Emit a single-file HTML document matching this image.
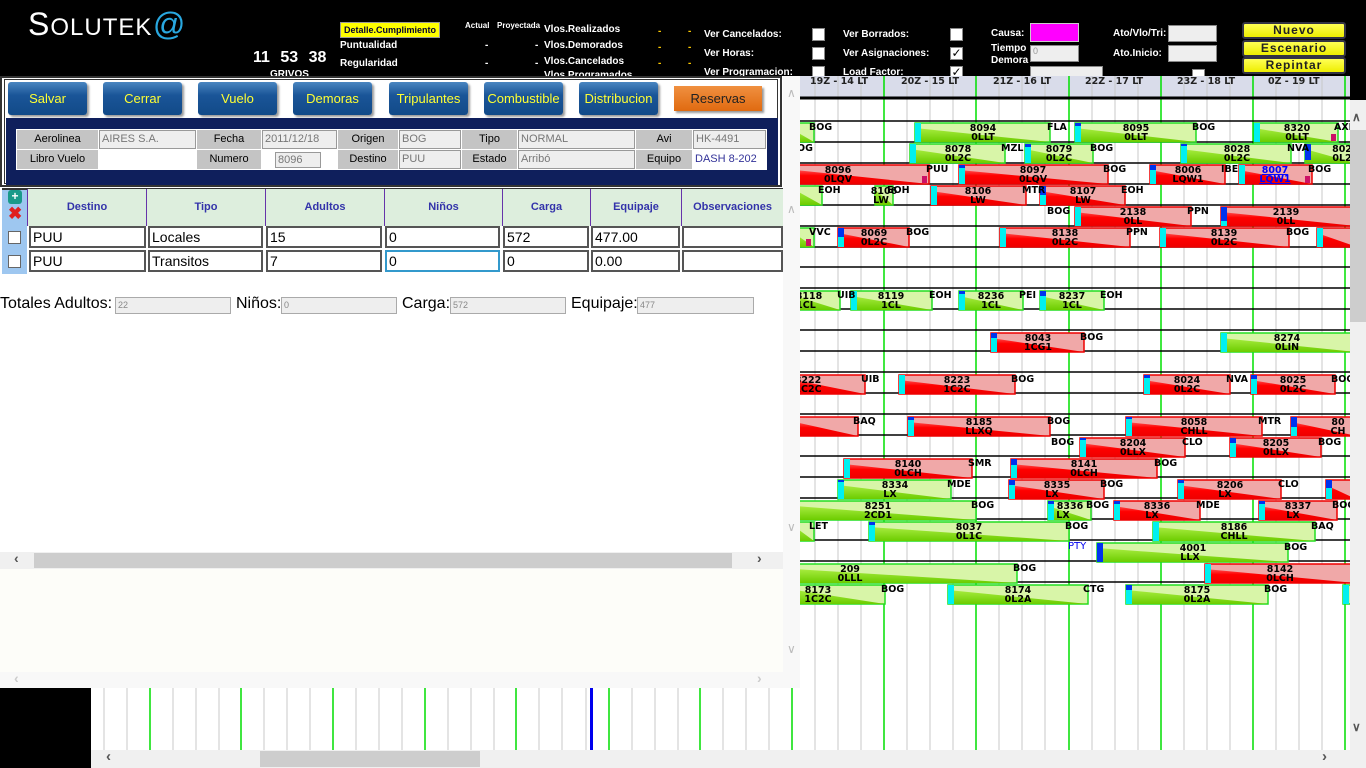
<!DOCTYPE html>
<html><head><meta charset="utf-8">
<style>
*{margin:0;padding:0;box-sizing:border-box}
body{width:1366px;height:768px;overflow:hidden;background:#000;position:relative;font-family:"Liberation Sans",sans-serif}
.a{position:absolute}
.w{color:#fff;font-weight:bold;font-size:10px;white-space:nowrap}
.cb{position:absolute;width:13px;height:13px;background:#fff;border:1px solid #888}
.yb{position:absolute;width:104px;height:17px;background:linear-gradient(#ffff55,#eeee00);border:2px solid #334;border-radius:3px;font-weight:bold;font-size:12px;text-align:center;line-height:13px;color:#222;letter-spacing:1px}
.btn{position:absolute;top:82px;height:33px;width:79px;background:linear-gradient(#4a86c0,#1a5598 40%,#124a88);border-radius:3px;color:#ffff33;font-size:13px;text-align:center;line-height:33px;box-shadow:2px 2px 2px #999}
.lc{position:absolute;height:19px;background:#c4c4c4;font-size:11px;text-align:center;line-height:19px;color:#000}
.ic{position:absolute;height:19px;background:#eee;border:1px solid #999;font-size:11px;line-height:17px;color:#777;padding-left:2px}
.gh{position:absolute;top:189px;height:37px;background:#ddeedd;border-left:1px solid #6633aa;color:#3333aa;font-size:11px;font-weight:bold;text-align:center;line-height:37px}
.gi{position:absolute;height:22px;background:#fff;border:2px solid #555;font-size:14px;line-height:18px;padding-left:2px}
.ti{position:absolute;top:297px;height:17px;background:#eee;border:1px solid #aaa;font-size:9px;color:#888;line-height:15px;padding-left:2px}
.tl{position:absolute;top:295px;font-size:16px;color:#000}
</style></head><body>
<!-- header -->
<div class="a" style="left:28px;top:6px;color:#fff;font-size:32px;letter-spacing:1px">S<span style="font-size:24px">OLUTEK</span><span style="color:#29a8e0;font-style:italic">@</span></div>
<div class="a w" style="left:253px;top:49px;font-size:16px;word-spacing:6px">11 53 38</div>
<div class="a w" style="left:270px;top:69px;font-size:10px">GRIVOS</div>
<div class="a" style="left:340px;top:22px;width:100px;height:16px;background:#ffff00;border:1px solid #999;font-size:9px;font-weight:bold;color:#003;text-align:center;line-height:14px">Detalle.Cumplimiento</div>
<div class="a w" style="left:340px;top:40px">Puntualidad</div>
<div class="a w" style="left:340px;top:58px">Regularidad</div>
<div class="a w" style="left:465px;top:21px;font-size:8px">Actual</div>
<div class="a w" style="left:497px;top:21px;font-size:8px">Proyectada</div>
<div class="a w" style="left:485px;top:40px">-</div><div class="a w" style="left:535px;top:40px">-</div>
<div class="a w" style="left:485px;top:58px">-</div><div class="a w" style="left:535px;top:58px">-</div>
<div class="a w" style="left:544px;top:24px">Vlos.Realizados</div>
<div class="a w" style="left:544px;top:40px">Vlos.Demorados</div>
<div class="a w" style="left:544px;top:56px">Vlos.Cancelados</div>
<div class="a w" style="left:544px;top:70px">Vlos.Programados</div>
<div class="a w" style="left:658px;top:26px;color:#fc0">-</div><div class="a w" style="left:688px;top:26px;color:#fc0">-</div>
<div class="a w" style="left:658px;top:42px;color:#fc0">-</div><div class="a w" style="left:688px;top:42px;color:#fc0">-</div>
<div class="a w" style="left:658px;top:58px;color:#fc0">-</div><div class="a w" style="left:688px;top:58px;color:#fc0">-</div>
<div class="a w" style="left:704px;top:29px">Ver Cancelados:</div>
<div class="a w" style="left:704px;top:48px">Ver Horas:</div>
<div class="a w" style="left:704px;top:67px">Ver Programacion:</div>
<div class="cb" style="left:812px;top:28px"></div><div class="cb" style="left:812px;top:47px"></div><div class="cb" style="left:812px;top:66px"></div>
<div class="a w" style="left:843px;top:29px">Ver Borrados:</div>
<div class="a w" style="left:843px;top:48px">Ver Asignaciones:</div>
<div class="a w" style="left:843px;top:67px">Load Factor:</div>
<div class="cb" style="left:950px;top:28px"></div>
<div class="cb" style="left:950px;top:47px;font-size:12px;line-height:10px;text-align:center">✓</div>
<div class="cb" style="left:950px;top:66px;font-size:12px;line-height:10px;text-align:center">✓</div>
<div class="a w" style="left:991px;top:28px">Causa:</div>
<div class="a" style="left:1030px;top:23px;width:49px;height:19px;background:#f0f;border:1px solid #ccc"></div>
<div class="a w" style="left:991px;top:43px;line-height:12px">Tiempo<br>Demora</div>
<div class="a" style="left:1030px;top:45px;width:49px;height:17px;background:#eee;border:1px solid #888;font-size:9px;color:#999;padding-left:2px">0</div>
<div class="a" style="left:1030px;top:66px;width:73px;height:12px;background:#eee;border:1px solid #888"></div>
<div class="a w" style="left:1113px;top:28px">Ato/Vlo/Tri:</div>
<div class="a" style="left:1168px;top:25px;width:49px;height:17px;background:#eee;border:1px solid #888"></div>
<div class="a w" style="left:1113px;top:48px">Ato.Inicio:</div>
<div class="a" style="left:1168px;top:45px;width:49px;height:17px;background:#eee;border:1px solid #888"></div>
<div class="cb" style="left:1192px;top:69px"></div>
<div class="yb" style="left:1242px;top:22px">Nuevo</div>
<div class="yb" style="left:1242px;top:40px">Escenario</div>
<div class="yb" style="left:1242px;top:57px">Repintar</div>

<!-- left panel -->
<div class="a" style="left:0;top:76px;width:800px;height:612px;background:#fff"></div>
<div class="a" style="left:0;top:76px;width:782px;height:111px;border:2px solid #333;background:#fff"></div>
<div class="a" style="left:4px;top:79px;width:774px;height:105px;border:1px solid #333"></div>
<div class="btn" style="left:8px">Salvar</div>
<div class="btn" style="left:103px">Cerrar</div>
<div class="btn" style="left:198px">Vuelo</div>
<div class="btn" style="left:293px">Demoras</div>
<div class="btn" style="left:389px">Tripulantes</div>
<div class="btn" style="left:484px">Combustible</div>
<div class="btn" style="left:579px">Distribucion</div>
<div class="a" style="left:674px;top:86px;width:88px;height:25px;background:linear-gradient(#f09040,#e06a10);color:#222;font-size:13px;text-align:center;line-height:25px;box-shadow:2px 2px 2px #999">Reservas</div>
<div class="a" style="left:6px;top:118px;width:772px;height:67px;background:#0f1f5c"></div>
<div class="a" style="left:16px;top:129px;width:751px;height:41px;background:#fff"></div>
<div class="lc" style="left:17px;top:130px;width:81px">Aerolinea</div><div class="ic" style="left:99px;top:130px;width:97px">AIRES S.A.</div>
<div class="lc" style="left:197px;top:130px;width:64px">Fecha</div><div class="ic" style="left:262px;top:130px;width:75px">2011/12/18</div>
<div class="lc" style="left:338px;top:130px;width:60px">Origen</div><div class="ic" style="left:399px;top:130px;width:62px">BOG</div>
<div class="lc" style="left:462px;top:130px;width:55px">Tipo</div><div class="ic" style="left:518px;top:130px;width:117px">NORMAL</div>
<div class="lc" style="left:636px;top:130px;width:56px">Avi</div><div class="ic" style="left:693px;top:130px;width:73px">HK-4491</div>
<div class="lc" style="left:17px;top:150px;width:81px">Libro Vuelo</div><div class="a" style="left:99px;top:150px;width:97px;height:19px;background:#fff"></div>
<div class="lc" style="left:197px;top:150px;width:64px">Numero</div><div class="ic" style="left:275px;top:152px;width:46px;height:16px;line-height:14px">8096</div>
<div class="lc" style="left:338px;top:150px;width:60px">Destino</div><div class="ic" style="left:399px;top:150px;width:62px">PUU</div>
<div class="lc" style="left:462px;top:150px;width:55px">Estado</div><div class="ic" style="left:518px;top:150px;width:117px">Arribó</div>
<div class="lc" style="left:636px;top:150px;width:56px">Equipo</div><div class="a" style="left:693px;top:150px;width:73px;height:19px;background:#fff;color:#339;font-size:11px;line-height:19px;padding-left:2px">DASH 8-202</div>

<!-- grid -->
<div class="a" style="left:2px;top:188px;width:781px;height:86px;background:#9ec7f0;border-top:2px solid #333"></div>
<div class="a" style="left:8px;top:190px;width:14px;height:14px;background:#1a9a8a;border-radius:3px;color:#fff;font-size:12px;line-height:13px;text-align:center;font-weight:bold">+</div>
<div class="a" style="left:8px;top:206px;color:#e02020;font-size:17px;font-weight:bold;line-height:16px">✖</div>
<div class="gh" style="left:27px;width:119px">Destino</div>
<div class="gh" style="left:146px;width:119px">Tipo</div>
<div class="gh" style="left:265px;width:119px">Adultos</div>
<div class="gh" style="left:384px;width:118px">Niños</div>
<div class="gh" style="left:502px;width:88px">Carga</div>
<div class="gh" style="left:590px;width:91px">Equipaje</div>
<div class="gh" style="left:681px;width:102px">Observaciones</div>
<div class="a" style="left:27px;top:226px;width:756px;height:48px;background:#fff"></div>
<div class="a" style="left:8px;top:231px;width:13px;height:13px;background:#fff;border:1px solid #666"></div>
<div class="a" style="left:8px;top:255px;width:13px;height:13px;background:#fff;border:1px solid #666"></div>
<div class="gi" style="left:29px;top:226px;width:117px">PUU</div>
<div class="gi" style="left:148px;top:226px;width:115px">Locales</div>
<div class="gi" style="left:266px;top:226px;width:116px">15</div>
<div class="gi" style="left:385px;top:226px;width:115px">0</div>
<div class="gi" style="left:503px;top:226px;width:86px">572</div>
<div class="gi" style="left:591px;top:226px;width:89px">477.00</div>
<div class="gi" style="left:682px;top:226px;width:101px"></div>
<div class="gi" style="left:29px;top:250px;width:117px">PUU</div>
<div class="gi" style="left:148px;top:250px;width:115px">Transitos</div>
<div class="gi" style="left:266px;top:250px;width:116px">7</div>
<div class="gi" style="left:385px;top:250px;width:115px;border-color:#39c">0</div>
<div class="gi" style="left:503px;top:250px;width:86px">0</div>
<div class="gi" style="left:591px;top:250px;width:89px">0.00</div>
<div class="gi" style="left:682px;top:250px;width:101px"></div>

<div class="tl" style="left:0">Totales Adultos:</div><div class="ti" style="left:115px;width:116px">22</div>
<div class="tl" style="left:236px">Niños:</div><div class="ti" style="left:281px;width:116px">0</div>
<div class="tl" style="left:402px">Carga:</div><div class="ti" style="left:450px;width:116px">572</div>
<div class="tl" style="left:571px">Equipaje:</div><div class="ti" style="left:637px;width:117px">477</div>

<div class="a" style="left:783px;top:76px;width:17px;height:612px;background:#f8f8f8"></div>
<div class="a" style="left:787px;top:86px;color:#bbb;font-size:12px">∧</div>
<div class="a" style="left:787px;top:202px;color:#bbb;font-size:12px">∧</div>
<div class="a" style="left:787px;top:520px;color:#bbb;font-size:12px">∨</div>
<div class="a" style="left:787px;top:642px;color:#bbb;font-size:12px">∨</div>
<div class="a" style="left:0;top:552px;width:783px;height:17px;background:#f0f0f0"></div>
<div class="a" style="left:34px;top:553px;width:698px;height:15px;background:#cdcdcd"></div>
<div class="a" style="left:14px;top:550px;color:#555;font-size:14px;font-weight:bold">‹</div>
<div class="a" style="left:757px;top:550px;color:#555;font-size:14px;font-weight:bold">›</div>
<div class="a" style="left:0;top:569px;width:783px;height:103px;background:#fdfdf9"></div>
<div class="a" style="left:0;top:672px;width:783px;height:16px;background:#f8f8f8"></div>
<div class="a" style="left:14px;top:670px;color:#ccc;font-size:14px;font-weight:bold">‹</div>
<div class="a" style="left:757px;top:670px;color:#ccc;font-size:14px;font-weight:bold">›</div>

<!-- bottom strip -->
<div class="a" style="left:91px;top:688px;width:1275px;height:62px;background:#fff"></div>
<svg class="a" style="left:0;top:688px" width="1366" height="62">
<g stroke="#c8c8c8" stroke-width="1">
<line x1="104" y1="0" x2="104" y2="62"/><line x1="127" y1="0" x2="127" y2="62"/><line x1="173" y1="0" x2="173" y2="62"/><line x1="196" y1="0" x2="196" y2="62"/><line x1="219" y1="0" x2="219" y2="62"/><line x1="264" y1="0" x2="264" y2="62"/><line x1="287" y1="0" x2="287" y2="62"/><line x1="310" y1="0" x2="310" y2="62"/><line x1="356" y1="0" x2="356" y2="62"/><line x1="379" y1="0" x2="379" y2="62"/><line x1="402" y1="0" x2="402" y2="62"/><line x1="448" y1="0" x2="448" y2="62"/><line x1="471" y1="0" x2="471" y2="62"/><line x1="494" y1="0" x2="494" y2="62"/><line x1="539" y1="0" x2="539" y2="62"/><line x1="562" y1="0" x2="562" y2="62"/><line x1="586" y1="0" x2="586" y2="62"/><line x1="632" y1="0" x2="632" y2="62"/><line x1="655" y1="0" x2="655" y2="62"/><line x1="678" y1="0" x2="678" y2="62"/><line x1="723" y1="0" x2="723" y2="62"/><line x1="746" y1="0" x2="746" y2="62"/><line x1="769" y1="0" x2="769" y2="62"/><line x1="815" y1="0" x2="815" y2="62"/><line x1="838" y1="0" x2="838" y2="62"/><line x1="861" y1="0" x2="861" y2="62"/><line x1="907" y1="0" x2="907" y2="62"/><line x1="930" y1="0" x2="930" y2="62"/><line x1="953" y1="0" x2="953" y2="62"/><line x1="999" y1="0" x2="999" y2="62"/><line x1="1022" y1="0" x2="1022" y2="62"/><line x1="1045" y1="0" x2="1045" y2="62"/><line x1="1092" y1="0" x2="1092" y2="62"/><line x1="1115" y1="0" x2="1115" y2="62"/><line x1="1138" y1="0" x2="1138" y2="62"/><line x1="1184" y1="0" x2="1184" y2="62"/><line x1="1207" y1="0" x2="1207" y2="62"/><line x1="1230" y1="0" x2="1230" y2="62"/><line x1="1276" y1="0" x2="1276" y2="62"/><line x1="1299" y1="0" x2="1299" y2="62"/><line x1="1322" y1="0" x2="1322" y2="62"/>
</g>
<g stroke="#00dd00" stroke-width="1.5">
<line x1="150" y1="0" x2="150" y2="62"/><line x1="241" y1="0" x2="241" y2="62"/><line x1="333" y1="0" x2="333" y2="62"/><line x1="425" y1="0" x2="425" y2="62"/><line x1="516" y1="0" x2="516" y2="62"/><line x1="609" y1="0" x2="609" y2="62"/><line x1="700" y1="0" x2="700" y2="62"/><line x1="792" y1="0" x2="792" y2="62"/><line x1="884" y1="0" x2="884" y2="62"/><line x1="976" y1="0" x2="976" y2="62"/><line x1="1069" y1="0" x2="1069" y2="62"/><line x1="1161" y1="0" x2="1161" y2="62"/><line x1="1253" y1="0" x2="1253" y2="62"/><line x1="1345" y1="0" x2="1345" y2="62"/>
</g>
<rect x="590" y="0" width="3" height="62" fill="#0000ee"/>
<rect x="0" y="0" width="91" height="62" fill="#000"/>
</svg>
<div class="a" style="left:91px;top:750px;width:1275px;height:18px;background:#f0f0f0"></div>
<div class="a" style="left:260px;top:751px;width:220px;height:16px;background:#cdcdcd"></div>
<div class="a" style="left:106px;top:748px;color:#555;font-size:15px;font-weight:bold">‹</div>
<div class="a" style="left:1322px;top:748px;color:#555;font-size:15px;font-weight:bold">›</div>

<!-- gantt -->
<svg class="a" style="left:800px;top:76px" width="550" height="612" font-family="DejaVu Sans, sans-serif" font-weight="bold" font-size="9.5">
<defs>
<linearGradient id="gd" x1="0" y1="0" x2="0" y2="1"><stop offset="0" stop-color="#a8ec40"/><stop offset="1" stop-color="#6ccc00"/></linearGradient>
<linearGradient id="rd" x1="0" y1="0" x2="0" y2="1"><stop offset="0" stop-color="#ff5050"/><stop offset="0.4" stop-color="#ff0000"/><stop offset="1" stop-color="#ee0000"/></linearGradient>
</defs>
<g transform="translate(-800,-76)">
<rect x="800" y="76" width="550" height="612" fill="#fff"/>
<rect x="800" y="76" width="550" height="21" fill="#d9dcea"/>
<g stroke="#c8c8c8">
<line x1="815" y1="76" x2="815" y2="688"/><line x1="838" y1="76" x2="838" y2="688"/><line x1="861" y1="76" x2="861" y2="688"/><line x1="907" y1="76" x2="907" y2="688"/><line x1="930" y1="76" x2="930" y2="688"/><line x1="953" y1="76" x2="953" y2="688"/><line x1="999" y1="76" x2="999" y2="688"/><line x1="1022" y1="76" x2="1022" y2="688"/><line x1="1045" y1="76" x2="1045" y2="688"/><line x1="1092" y1="76" x2="1092" y2="688"/><line x1="1115" y1="76" x2="1115" y2="688"/><line x1="1138" y1="76" x2="1138" y2="688"/><line x1="1184" y1="76" x2="1184" y2="688"/><line x1="1207" y1="76" x2="1207" y2="688"/><line x1="1230" y1="76" x2="1230" y2="688"/><line x1="1276" y1="76" x2="1276" y2="688"/><line x1="1299" y1="76" x2="1299" y2="688"/><line x1="1322" y1="76" x2="1322" y2="688"/>
</g>
<g stroke="#00e000" stroke-width="1.5">
<line x1="884" y1="76" x2="884" y2="688"/><line x1="976" y1="76" x2="976" y2="688"/><line x1="1069" y1="76" x2="1069" y2="688"/><line x1="1161" y1="76" x2="1161" y2="688"/><line x1="1253" y1="76" x2="1253" y2="688"/><line x1="1345" y1="76" x2="1345" y2="688"/>
</g>
<g font-size="9.5" fill="#222">
<text x="810" y="84">19Z - 14 LT</text><text x="901" y="84">20Z - 15 LT</text><text x="993" y="84">21Z - 16 LT</text><text x="1085" y="84">22Z - 17 LT</text><text x="1177" y="84">23Z - 18 LT</text><text x="1268" y="84">0Z - 19 LT</text>
</g>
<g stroke="#000" stroke-width="1.5">
<line x1="800" y1="98" x2="1350" y2="98" stroke-width="3"/>
<line x1="800" y1="121" x2="1350" y2="121"/><line x1="800" y1="142" x2="1350" y2="142"/><line x1="800" y1="163" x2="1350" y2="163"/><line x1="800" y1="184" x2="1350" y2="184"/><line x1="800" y1="205" x2="1350" y2="205"/><line x1="800" y1="226" x2="1350" y2="226"/><line x1="800" y1="247" x2="1350" y2="247"/><line x1="800" y1="267" x2="1350" y2="267"/><line x1="800" y1="288" x2="1350" y2="288"/><line x1="800" y1="309" x2="1350" y2="309"/><line x1="800" y1="330" x2="1350" y2="330"/><line x1="800" y1="351" x2="1350" y2="351"/><line x1="800" y1="372" x2="1350" y2="372"/><line x1="800" y1="393" x2="1350" y2="393"/><line x1="800" y1="414" x2="1350" y2="414"/><line x1="800" y1="435" x2="1350" y2="435"/><line x1="800" y1="456" x2="1350" y2="456"/><line x1="800" y1="477" x2="1350" y2="477"/><line x1="800" y1="498" x2="1350" y2="498"/><line x1="800" y1="519" x2="1350" y2="519"/><line x1="800" y1="540" x2="1350" y2="540"/><line x1="800" y1="561" x2="1350" y2="561"/><line x1="800" y1="582" x2="1350" y2="582"/>
</g>

<!-- green bars: rect light + triangle dark -->
<g stroke="#22dd22" stroke-width="1.5" fill="#d8f5a8">
<rect x="795" y="123" width="19" height="19"/><rect x="915" y="123" width="135" height="19"/><rect x="1075" y="123" width="121" height="19"/><rect x="1254" y="123" width="84" height="19"/>
<rect x="910" y="144" width="95" height="19"/><rect x="1025" y="144" width="68" height="19"/><rect x="1181" y="144" width="110" height="19"/><rect x="1305" y="144" width="50" height="19"/>
<rect x="795" y="186" width="27" height="19"/><rect x="875" y="186" width="18" height="19"/>
<rect x="795" y="228" width="19" height="19"/>
<rect x="795" y="291" width="45" height="19"/><rect x="851" y="291" width="81" height="19"/><rect x="959" y="291" width="64" height="19"/><rect x="1040" y="291" width="64" height="19"/>
<rect x="1221" y="333" width="135" height="19"/>
<rect x="838" y="480" width="113" height="19"/>
<rect x="795" y="501" width="181" height="19"/><rect x="1048" y="501" width="43" height="19"/>
<rect x="795" y="522" width="19" height="19"/><rect x="869" y="522" width="200" height="19"/><rect x="1153" y="522" width="162" height="19"/>
<rect x="1097" y="543" width="191" height="19"/>
<rect x="795" y="564" width="222" height="19"/>
<rect x="795" y="585" width="90" height="19"/><rect x="948" y="585" width="140" height="19"/><rect x="1126" y="585" width="142" height="19"/><rect x="1343" y="585" width="12" height="19"/>
</g>
<g fill="url(#gd)">
<polygon points="795,131 814,142 795,142"/><polygon points="915,128 1050,142 915,142"/><polygon points="1075,128 1196,142 1075,142"/><polygon points="1254,128 1338,142 1254,142"/>
<polygon points="910,149 1005,163 910,163"/><polygon points="1025,149 1093,163 1025,163"/><polygon points="1181,149 1291,163 1181,163"/><polygon points="1305,149 1355,163 1305,163"/>
<polygon points="795,190 822,205 795,205"/><polygon points="875,190 893,205 875,205"/>
<polygon points="795,234 814,247 795,247"/>
<polygon points="795,296 840,310 795,310"/><polygon points="851,296 932,310 851,310"/><polygon points="959,296 1023,310 959,310"/><polygon points="1040,296 1104,310 1040,310"/>
<polygon points="1221,338 1356,352 1221,352"/>
<polygon points="838,485 951,499 838,499"/>
<polygon points="795,506 976,520 795,520"/><polygon points="1048,506 1091,520 1048,520"/>
<polygon points="795,527 814,541 795,541"/><polygon points="869,527 1069,541 869,541"/><polygon points="1153,527 1315,541 1153,541"/>
<polygon points="1097,548 1288,562 1097,562"/>
<polygon points="795,569 1017,583 795,583"/>
<polygon points="795,590 885,604 795,604"/><polygon points="948,590 1088,604 948,604"/><polygon points="1126,590 1268,604 1126,604"/>
</g>

<!-- red bars -->
<g stroke="#ee0000" stroke-width="1.5" fill="#f0a8a8">
<rect x="795" y="165" width="134" height="19"/><rect x="959" y="165" width="149" height="19"/><rect x="1150" y="165" width="75" height="19"/><rect x="1239" y="165" width="73" height="19"/>
<rect x="931" y="186" width="95" height="19"/><rect x="1040" y="186" width="85" height="19"/>
<rect x="1075" y="207" width="116" height="19"/><rect x="1221" y="207" width="135" height="19"/>
<rect x="838" y="228" width="71" height="19"/><rect x="1000" y="228" width="130" height="19"/><rect x="1160" y="228" width="129" height="19"/><rect x="1317" y="228" width="40" height="19"/>
<rect x="991" y="333" width="93" height="19"/>
<rect x="795" y="375" width="70" height="19"/><rect x="899" y="375" width="116" height="19"/><rect x="1144" y="375" width="86" height="19"/><rect x="1251" y="375" width="84" height="19"/>
<rect x="795" y="417" width="63" height="19"/><rect x="908" y="417" width="142" height="19"/><rect x="1126" y="417" width="136" height="19"/><rect x="1291" y="417" width="65" height="19"/>
<rect x="1080" y="438" width="105" height="19"/><rect x="1230" y="438" width="91" height="19"/>
<rect x="844" y="459" width="128" height="19"/><rect x="1011" y="459" width="146" height="19"/>
<rect x="1009" y="480" width="95" height="19"/><rect x="1178" y="480" width="103" height="19"/><rect x="1326" y="480" width="30" height="19"/>
<rect x="1114" y="501" width="86" height="19"/><rect x="1259" y="501" width="78" height="19"/>
<rect x="1205" y="564" width="151" height="19"/>
</g>
<g fill="url(#rd)">
<polygon points="795,170 929,184 795,184"/><polygon points="959,170 1108,184 959,184"/><polygon points="1150,170 1225,184 1150,184"/><polygon points="1239,170 1312,184 1239,184"/>
<polygon points="931,191 1026,205 931,205"/><polygon points="1040,191 1125,205 1040,205"/>
<polygon points="1075,212 1191,226 1075,226"/><polygon points="1221,212 1356,226 1221,226"/>
<polygon points="838,233 909,247 838,247"/><polygon points="1000,233 1130,247 1000,247"/><polygon points="1160,233 1289,247 1160,247"/><polygon points="1317,233 1357,247 1317,247"/>
<polygon points="991,338 1084,352 991,352"/>
<polygon points="795,380 865,394 795,394"/><polygon points="899,380 1015,394 899,394"/><polygon points="1144,380 1230,394 1144,394"/><polygon points="1251,380 1335,394 1251,394"/>
<polygon points="795,422 858,436 795,436"/><polygon points="908,422 1050,436 908,436"/><polygon points="1126,422 1262,436 1126,436"/><polygon points="1291,422 1357,436 1291,436"/>
<polygon points="1080,443 1185,457 1080,457"/><polygon points="1230,443 1321,457 1230,457"/>
<polygon points="844,464 972,478 844,478"/><polygon points="1011,464 1157,478 1011,478"/>
<polygon points="1009,485 1104,499 1009,499"/><polygon points="1178,485 1281,499 1178,499"/><polygon points="1326,485 1356,499 1326,499"/>
<polygon points="1114,506 1200,520 1114,520"/><polygon points="1259,506 1337,520 1259,520"/>
<polygon points="1205,569 1356,583 1205,583"/>
</g>

<!-- cyan / blue strips -->
<g fill="#00f0f0">
<rect x="915" y="123" width="6" height="19"/><rect x="1075" y="123" width="6" height="19"/><rect x="1254" y="123" width="6" height="19"/>
<rect x="910" y="144" width="6" height="19"/><rect x="1025" y="144" width="6" height="19"/><rect x="1181" y="144" width="6" height="19"/>
<rect x="959" y="165" width="6" height="19"/><rect x="1150" y="165" width="6" height="19"/><rect x="1239" y="165" width="6" height="19"/>
<rect x="931" y="186" width="6" height="19"/><rect x="1040" y="186" width="6" height="19"/>
<rect x="1075" y="207" width="6" height="19"/><rect x="1221" y="207" width="6" height="19"/>
<rect x="838" y="228" width="6" height="19"/><rect x="1000" y="228" width="6" height="19"/><rect x="1160" y="228" width="6" height="19"/><rect x="1317" y="228" width="6" height="19"/>
<rect x="851" y="291" width="6" height="19"/><rect x="959" y="291" width="6" height="19"/><rect x="1040" y="291" width="6" height="19"/>
<rect x="991" y="333" width="6" height="19"/><rect x="1221" y="333" width="6" height="19"/>
<rect x="899" y="375" width="6" height="19"/><rect x="1144" y="375" width="6" height="19"/><rect x="1251" y="375" width="6" height="19"/>
<rect x="908" y="417" width="6" height="19"/><rect x="1126" y="417" width="6" height="19"/><rect x="1291" y="417" width="6" height="19"/>
<rect x="1080" y="438" width="6" height="19"/><rect x="1230" y="438" width="6" height="19"/>
<rect x="844" y="459" width="6" height="19"/><rect x="1011" y="459" width="6" height="19"/>
<rect x="838" y="480" width="6" height="19"/><rect x="1009" y="480" width="6" height="19"/><rect x="1178" y="480" width="6" height="19"/><rect x="1326" y="480" width="6" height="19"/>
<rect x="1048" y="501" width="6" height="19"/><rect x="1114" y="501" width="6" height="19"/><rect x="1259" y="501" width="6" height="19"/>
<rect x="869" y="522" width="6" height="19"/><rect x="1153" y="522" width="6" height="19"/>
<rect x="1205" y="564" width="6" height="19"/>
<rect x="948" y="585" width="6" height="19"/><rect x="1126" y="585" width="6" height="19"/><rect x="1343" y="585" width="6" height="19"/>
</g>
<g fill="#0033ee">
<rect x="1075" y="123" width="6" height="3"/><rect x="1025" y="144" width="6" height="3"/><rect x="1181" y="144" width="6" height="2"/><rect x="1305" y="144" width="6" height="16"/>
<rect x="959" y="165" width="6" height="3"/><rect x="1150" y="165" width="6" height="5"/><rect x="1040" y="186" width="6" height="9"/><rect x="1221" y="207" width="6" height="14"/>
<rect x="838" y="228" width="6" height="9"/><rect x="959" y="291" width="6" height="3"/><rect x="1040" y="291" width="6" height="5"/><rect x="991" y="333" width="6" height="5"/>
<rect x="1144" y="375" width="6" height="3"/><rect x="1251" y="375" width="6" height="4"/><rect x="908" y="417" width="6" height="3"/><rect x="1126" y="417" width="6" height="2"/><rect x="1291" y="417" width="6" height="10"/>
<rect x="1080" y="438" width="6" height="2"/><rect x="1230" y="438" width="6" height="5"/><rect x="1011" y="459" width="6" height="6"/>
<rect x="838" y="480" width="6" height="2"/><rect x="1009" y="480" width="6" height="5"/><rect x="1178" y="480" width="6" height="3"/><rect x="1326" y="480" width="6" height="8"/>
<rect x="1048" y="501" width="6" height="3"/><rect x="1114" y="501" width="6" height="3"/><rect x="1259" y="501" width="6" height="3"/><rect x="869" y="522" width="6" height="3"/>
<rect x="1097" y="543" width="6" height="19"/><rect x="1126" y="585" width="6" height="5"/>
</g>
<g fill="#cc1166">
<rect x="1331" y="134" width="5" height="7"/><rect x="922" y="176" width="5" height="7"/><rect x="1305" y="176" width="5" height="7"/><rect x="806" y="239" width="5" height="7"/>
</g>

<!-- bar texts -->
<g text-anchor="middle" fill="#000">
<text x="983" y="131">8094</text><text x="983" y="140">0LLT</text>
<text x="1136" y="131">8095</text><text x="1136" y="140">0LLT</text>
<text x="1297" y="131">8320</text><text x="1297" y="140">0LLT</text>
<text x="958" y="152">8078</text><text x="958" y="161">0L2C</text>
<text x="1059" y="152">8079</text><text x="1059" y="161">0L2C</text>
<text x="1237" y="152">8028</text><text x="1237" y="161">0L2C</text>
<text x="1342" y="152">802</text><text x="1342" y="161">0L2</text>
<text x="838" y="173">8096</text><text x="838" y="182">0LQV</text>
<text x="1033" y="173">8097</text><text x="1033" y="182">0LQV</text>
<text x="1188" y="173">8006</text><text x="1188" y="182">LQW1</text>
<text x="1275" y="173" fill="#00f" text-decoration="underline">8007</text><text x="1275" y="182" fill="#00f" text-decoration="underline">LQW1</text>
<text x="884" y="194">8106</text><text x="881" y="203">LW</text>
<text x="978" y="194">8106</text><text x="978" y="203">LW</text>
<text x="1083" y="194">8107</text><text x="1083" y="203">LW</text>
<text x="1133" y="215">2138</text><text x="1133" y="224">0LL</text>
<text x="1286" y="215">2139</text><text x="1286" y="224">0LL</text>
<text x="874" y="236">8069</text><text x="874" y="245">0L2C</text>
<text x="1065" y="236">8138</text><text x="1065" y="245">0L2C</text>
<text x="1224" y="236">8139</text><text x="1224" y="245">0L2C</text>
<text x="809" y="299">8118</text><text x="806" y="308">1CL</text>
<text x="891" y="299">8119</text><text x="891" y="308">1CL</text>
<text x="991" y="299">8236</text><text x="991" y="308">1CL</text>
<text x="1072" y="299">8237</text><text x="1072" y="308">1CL</text>
<text x="1038" y="341">8043</text><text x="1038" y="350">1CG1</text>
<text x="1287" y="341">8274</text><text x="1287" y="350">0LIN</text>
<text x="808" y="383">8222</text><text x="808" y="392">1C2C</text>
<text x="957" y="383">8223</text><text x="957" y="392">1C2C</text>
<text x="1187" y="383">8024</text><text x="1187" y="392">0L2C</text>
<text x="1293" y="383">8025</text><text x="1293" y="392">0L2C</text>
<text x="979" y="425">8185</text><text x="979" y="434">LLXQ</text>
<text x="1194" y="425">8058</text><text x="1194" y="434">CHLL</text>
<text x="1338" y="425">80</text><text x="1338" y="434">CH</text>
<text x="1133" y="446">8204</text><text x="1133" y="455">0LLX</text>
<text x="1276" y="446">8205</text><text x="1276" y="455">0LLX</text>
<text x="908" y="467">8140</text><text x="908" y="476">0LCH</text>
<text x="1084" y="467">8141</text><text x="1084" y="476">0LCH</text>
<text x="895" y="488">8334</text><text x="890" y="497">LX</text>
<text x="1057" y="488">8335</text><text x="1052" y="497">LX</text>
<text x="1230" y="488">8206</text><text x="1225" y="497">LX</text>
<text x="878" y="509">8251</text><text x="878" y="518">2CD1</text>
<text x="1070" y="509">8336</text><text x="1063" y="518">LX</text>
<text x="1157" y="509">8336</text><text x="1152" y="518">LX</text>
<text x="1298" y="509">8337</text><text x="1293" y="518">LX</text>
<text x="969" y="530">8037</text><text x="969" y="539">0L1C</text>
<text x="1234" y="530">8186</text><text x="1234" y="539">CHLL</text>
<text x="1193" y="551">4001</text><text x="1190" y="560">LLX</text>
<text x="850" y="572">209</text><text x="850" y="581">0LLL</text>
<text x="1280" y="572">8142</text><text x="1280" y="581">0LCH</text>
<text x="818" y="593">8173</text><text x="818" y="602">1C2C</text>
<text x="1018" y="593">8174</text><text x="1018" y="602">0L2A</text>
<text x="1197" y="593">8175</text><text x="1197" y="602">0L2A</text>
</g>
<g fill="#000">
<text x="809" y="130">BOG</text><text x="1047" y="130">FLA</text><text x="1192" y="130">BOG</text><text x="1334" y="130">AXI</text>
<text x="797" y="151">OG</text><text x="1001" y="151">MZL</text><text x="1090" y="151">BOG</text><text x="1287" y="151">NVA</text>
<text x="926" y="172">PUU</text><text x="1103" y="172">BOG</text><text x="1221" y="172">IBE</text><text x="1308" y="172">BOG</text>
<text x="818" y="193">EOH</text><text x="887" y="193">EOH</text><text x="1022" y="193">MTR</text><text x="1121" y="193">EOH</text>
<text x="1047" y="214">BOG</text><text x="1187" y="214">PPN</text>
<text x="809" y="235">VVC</text><text x="906" y="235">BOG</text><text x="1126" y="235">PPN</text><text x="1286" y="235">BOG</text>
<text x="837" y="298">UIB</text><text x="929" y="298">EOH</text><text x="1019" y="298">PEI</text><text x="1100" y="298">EOH</text>
<text x="1080" y="340">BOG</text>
<text x="861" y="382">UIB</text><text x="1011" y="382">BOG</text><text x="1226" y="382">NVA</text><text x="1331" y="382">BOG</text>
<text x="853" y="424">BAQ</text><text x="1047" y="424">BOG</text><text x="1258" y="424">MTR</text>
<text x="1051" y="445">BOG</text><text x="1182" y="445">CLO</text><text x="1318" y="445">BOG</text>
<text x="968" y="466">SMR</text><text x="1154" y="466">BOG</text>
<text x="947" y="487">MDE</text><text x="1100" y="487">BOG</text><text x="1278" y="487">CLO</text>
<text x="971" y="508">BOG</text><text x="1086" y="508">BOG</text><text x="1196" y="508">MDE</text><text x="1332" y="508">BOG</text>
<text x="809" y="529">LET</text><text x="1065" y="529">BOG</text><text x="1311" y="529">BAQ</text>
<text x="1284" y="550">BOG</text>
<text x="1013" y="571">BOG</text>
<text x="881" y="592">BOG</text><text x="1083" y="592">CTG</text><text x="1264" y="592">BOG</text>
</g>
<text x="1068" y="549" fill="#0000ee" font-weight="normal" font-size="10">PTY</text>
</g>
</svg>
<div class="a" style="left:1350px;top:100px;width:16px;height:650px;background:#f0f0f0"></div>
<div class="a" style="left:1350px;top:130px;width:16px;height:192px;background:#cdcdcd"></div>
<div class="a" style="left:1352px;top:110px;color:#555;font-size:12px;font-weight:bold">∧</div>
<div class="a" style="left:1352px;top:720px;color:#555;font-size:12px;font-weight:bold">∨</div>
</body></html>
